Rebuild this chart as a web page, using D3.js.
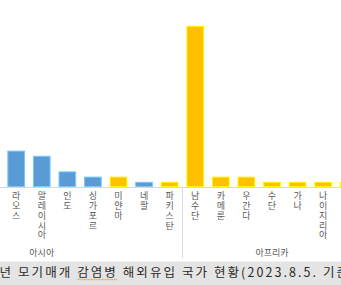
<!DOCTYPE html>
<html>
<head>
<meta charset="utf-8">
<script src="https://cdn.jsdelivr.net/npm/d3@7"></script>
<style>
  html, body { margin: 0; padding: 0; background: #fff; }
  svg { display: block; font-family: "Noto Sans CJK KR", "Noto Sans", sans-serif; }
  .vlabel { writing-mode: vertical-rl; text-orientation: upright; }
</style>
</head>
<body>
<div id="chart"></div>
<script>
// visible part of the chart (last Africa bar is cut at the right edge)
var categories = ["라오스", "말레이시아", "인도", "싱가포르", "미얀마", "네팔", "파키스탄",
                  "남수단", "카메룬", "우간다", "수단", "가나", "나이지리아", ""];
var regionOf = ["아시아", "아시아", "아시아", "아시아", "아시아", "아시아", "아시아",
                "아프리카", "아프리카", "아프리카", "아프리카", "아프리카", "아프리카", "아프리카"];
var dengue  = [7, 6, 3, 2, 0, 1, 0,  0, 0, 0, 0, 0, 0, 0];
var malaria = [0, 0, 0, 0, 2, 0, 1, 31, 2, 2, 1, 1, 1, 1];
// number of countries per region in the full chart (4 asian ones are left of the crop)
var regionNames = ["아시아", "아프리카"];
var regionSizes = [11, 7];
var seriesNames = ["뎅기열", "말라리아"];
var seriesColors = ["#5B9BD5", "#FFC000"];
var titleText = "2023년 모기매개 감염병 해외유입 국가 현황(2023.8.5. 기준)";

var w = 341, h = 285;
var baseY = 187;

var table = categories.map(function (c, i) {
  return { cat: c, "뎅기열": dengue[i], "말라리아": malaria[i] };
});

var svg = d3.select("#chart").append("svg")
  .attr("width", w)
  .attr("height", h);

var x = d3.scaleBand()
  .domain(categories)
  .range([3.4, 361.5])
  .paddingInner(0.31)
  .paddingOuter(0.155);

var y = d3.scaleLinear()
  .domain([0, 31])
  .range([baseY, 25.8]);

var stacked = d3.stack().keys(seriesNames)(table);

svg.append("g").selectAll("g")
  .data(stacked)
  .enter().append("g")
  .attr("fill", function (d, i) { return seriesColors[i]; })
  .attr("stroke", function (d, i) { return d3.color(seriesColors[i]).brighter(0.7); })
  .selectAll("rect")
  .data(function (d) { return d.filter(function (p) { return p[1] > p[0]; }); })
  .enter().append("rect")
  .attr("x", function (p) { return x(p.data.cat) + 0.5; })
  .attr("y", function (p) { return y(p[1]) + 0.5; })
  .attr("width", x.bandwidth() - 1)
  .attr("height", function (p) { return y(p[0]) - y(p[1]) - 1; });

// category axis line
svg.append("line")
  .attr("x1", 0).attr("x2", w)
  .attr("y1", baseY + 0.5).attr("y2", baseY + 0.5)
  .attr("stroke", "#D9D9D9");

// vertical labels, upright characters top to bottom
svg.append("g")
  .attr("fill", "#595959")
  .attr("font-size", "9px")
  .selectAll("text")
  .data(categories.filter(function (c) { return c; }))
  .enter().append("text")
  .attr("class", "vlabel")
  .attr("x", function (c) { return x(c) + x.bandwidth() / 2; })
  .attr("y", 191.5)
  .attr("letter-spacing", 0.7)
  .text(function (c) { return c; });

// region groups
var step = x.step();
var slotLeft = function (c) { return x(c) - step * x.paddingInner() / 2; };
regionNames.forEach(function (r, gi) {
  var members = categories.filter(function (c, i) { return regionOf[i] === r; });
  var end = slotLeft(members[members.length - 1]) + step;
  var start = end - regionSizes[gi] * step;
  svg.append("text")
    .attr("x", (start + end) / 2)
    .attr("y", 255.5)
    .attr("text-anchor", "middle")
    .attr("font-size", "9px")
    .attr("fill", "#595959")
    .text(r);
  [start, end].forEach(function (bx) {
    svg.append("line")
      .attr("x1", Math.round(bx) + 0.5).attr("x2", Math.round(bx) + 0.5)
      .attr("y1", baseY).attr("y2", 258)
      .attr("stroke", "#D9D9D9");
  });
});

// caption band under the chart
svg.append("rect")
  .attr("x", 0).attr("y", 261.5)
  .attr("width", w).attr("height", h - 261.5)
  .attr("fill", "#E4E4E4");

var cap = svg.append("text")
  .attr("y", 276.5)
  .attr("font-size", "12.5px")
  .attr("fill", "#2B2B2B")
  .text(titleText);

// stretch so "모" starts at 18 and "기준" at 323
var n = cap.node();
var iMo = titleText.indexOf("모");
var iGi = titleText.indexOf("기준");
var span = n.getSubStringLength(iMo, iGi - iMo);
var ls = (305 - span) / (iGi - iMo);
cap.attr("letter-spacing", ls);
var pre = n.getSubStringLength(0, iMo);
cap.attr("x", 18 - pre);

// spell-check squiggle under 감염병
var iGam = titleText.indexOf("감염병");
var gx0 = 18 - pre + n.getSubStringLength(0, iGam);
var gx1 = gx0 + n.getSubStringLength(iGam, 3);
var pts = d3.range(gx0, gx1, 2).map(function (px, k) { return [px, k % 2 ? 279 : 280]; });
svg.append("path")
  .attr("d", d3.line()(pts))
  .attr("fill", "none")
  .attr("stroke", "#E39A52")
  .attr("stroke-width", 0.8);
</script>
</body>
</html>
